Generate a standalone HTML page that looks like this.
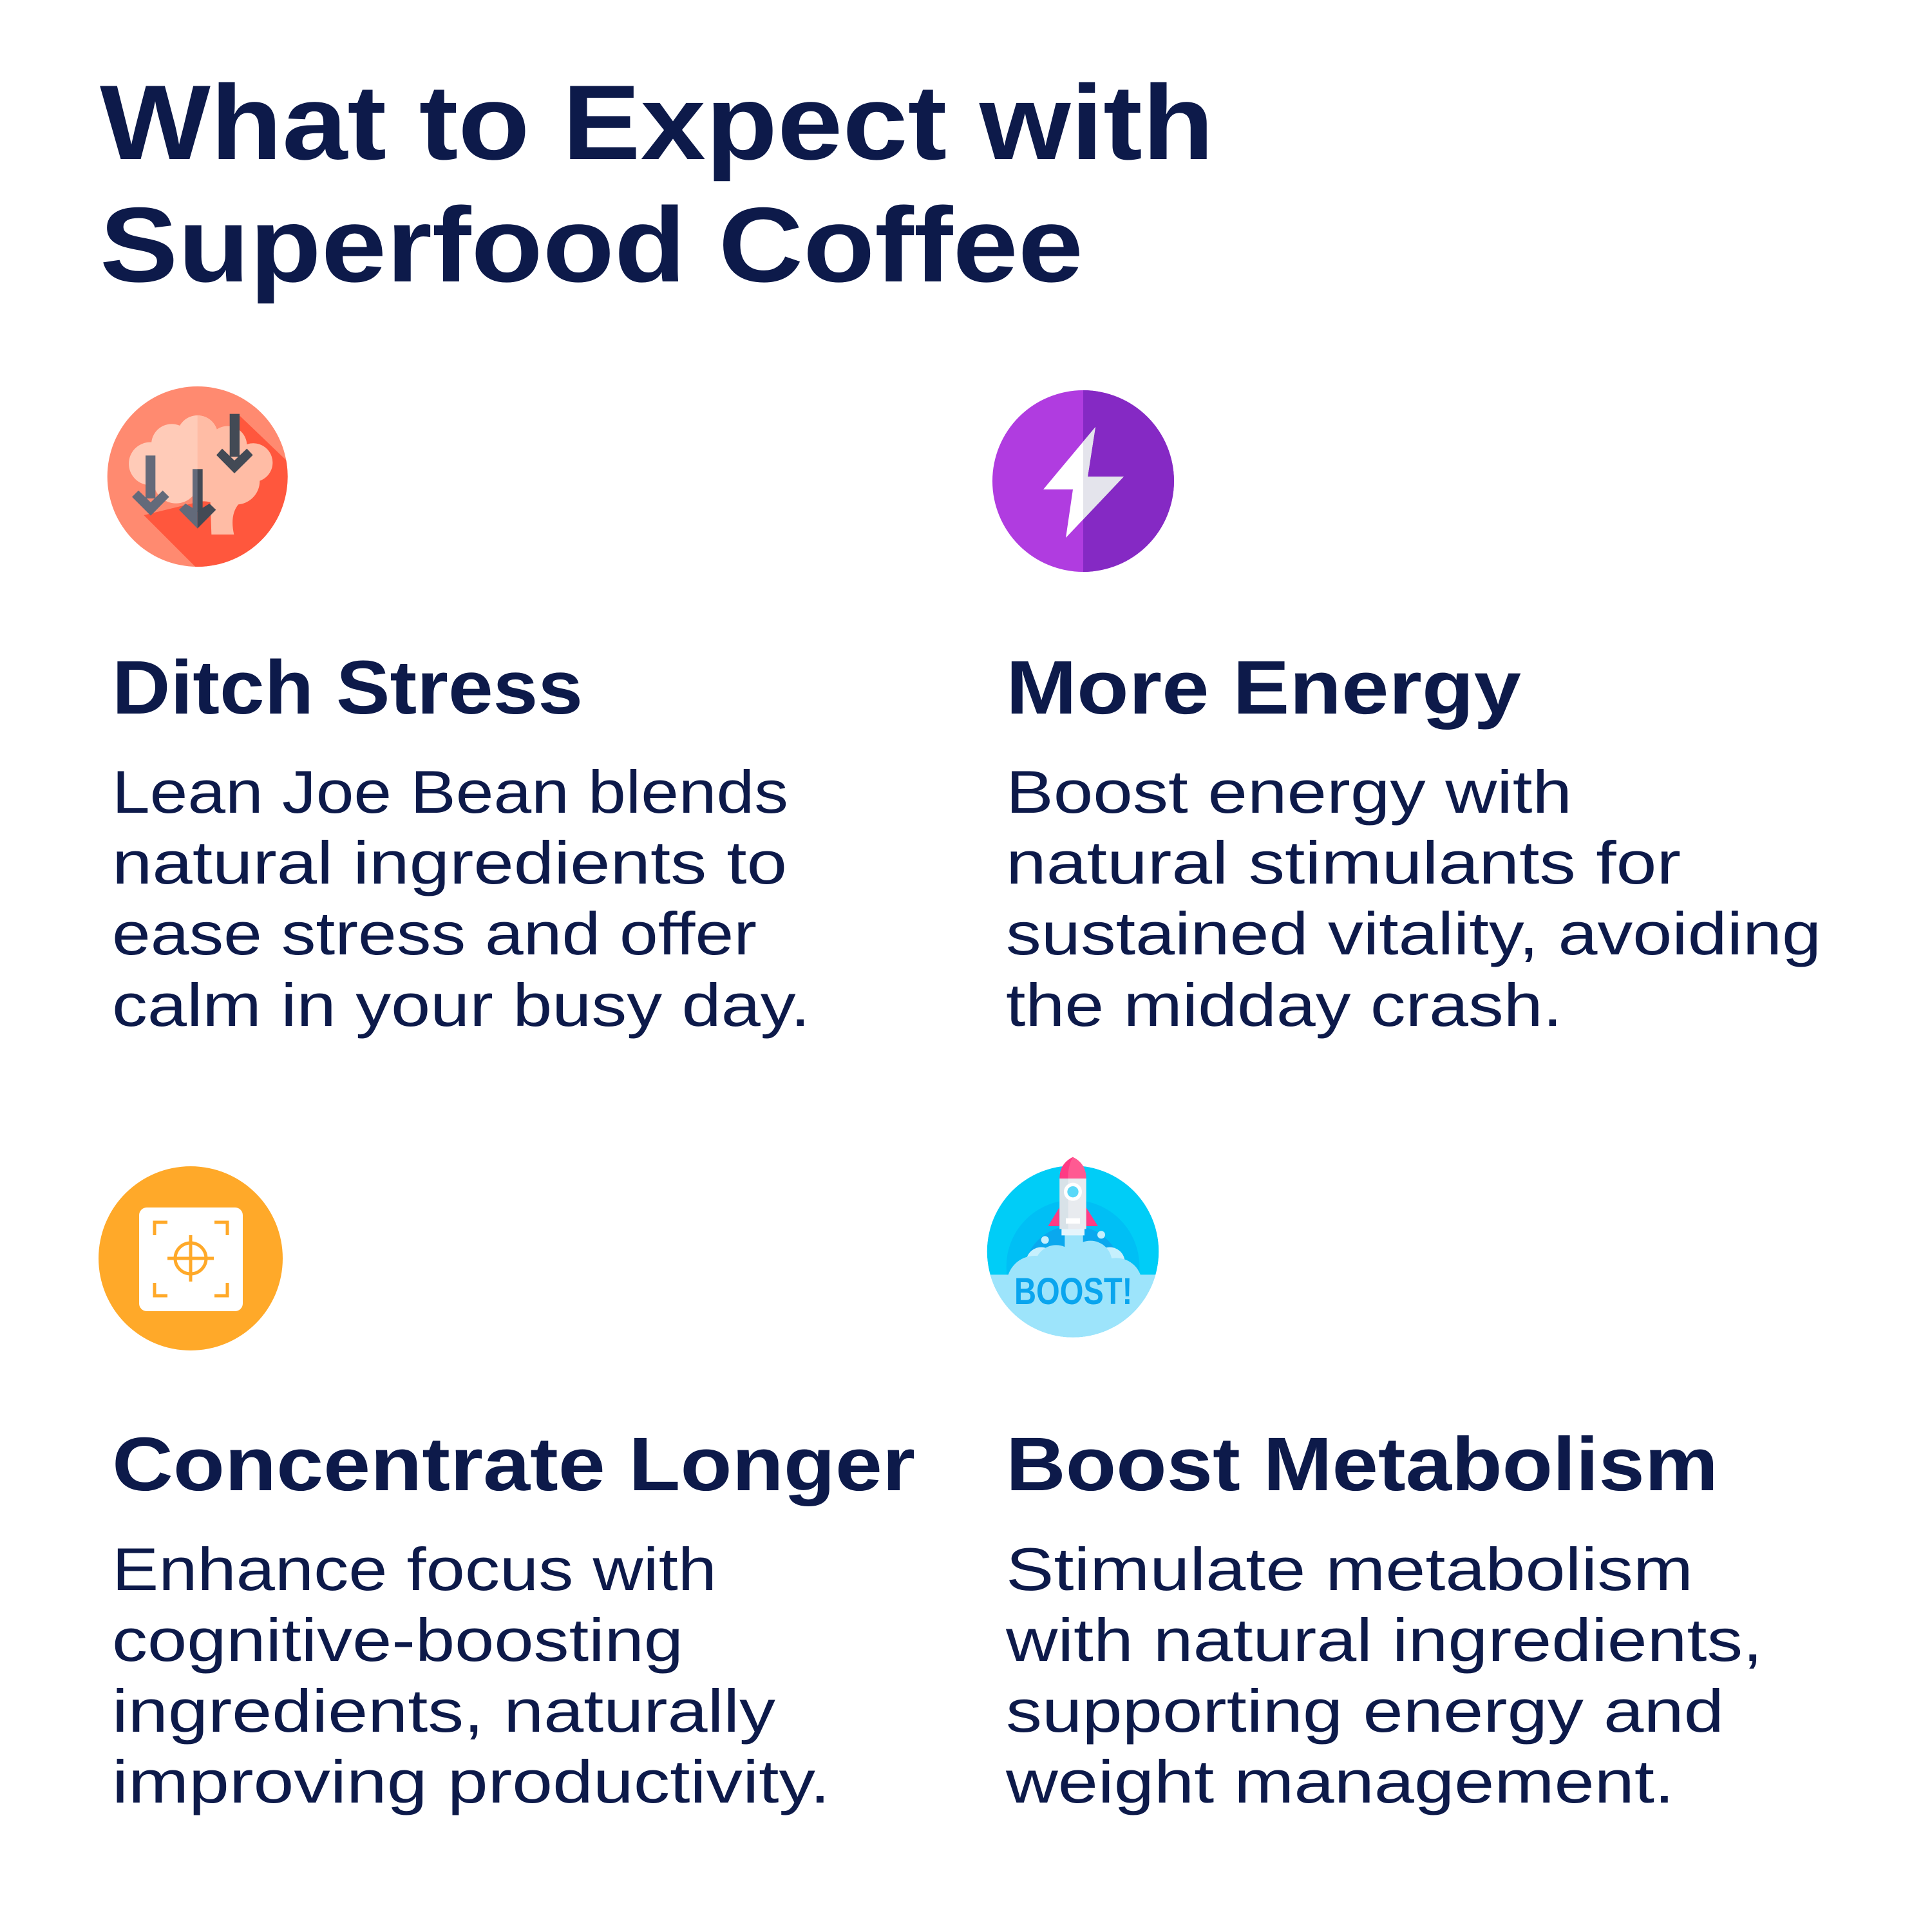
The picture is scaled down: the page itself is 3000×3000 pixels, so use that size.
<!DOCTYPE html>
<html><head><meta charset="utf-8"><style>
html,body{margin:0;padding:0;background:#fff;}
svg{display:block;}
text{font-family:"Liberation Sans",sans-serif;fill:#0d1a4a;}
.h{font-weight:bold;font-size:118px;}
.b{font-size:94px;}
</style></head><body>
<svg width="3000" height="3000" viewBox="0 0 3000 3000" xmlns="http://www.w3.org/2000/svg">
<defs>
<clipPath id="c1"><circle cx="500" cy="480" r="420"/></clipPath>
<clipPath id="c4"><circle cx="438" cy="490" r="400"/></clipPath>
<clipPath id="cp"><rect x="1682" y="500" width="400" height="500"/></clipPath>
</defs>
<rect width="3000" height="3000" fill="#fff"/>
<!-- Title -->
<text x="155" y="247" font-weight="bold" font-size="165" textLength="1730" lengthAdjust="spacingAndGlyphs">What to Expect with</text>
<text x="155" y="437" font-weight="bold" font-size="165" textLength="1527" lengthAdjust="spacingAndGlyphs">Superfood Coffee</text>

<!-- Icon 1 brain -->
<g transform="translate(140,580) scale(0.33333)">
<circle cx="500" cy="480" r="420" fill="#ff8a70"/>
<polygon clip-path="url(#c1)" points="690,190 930,420 930,920 510,920 250,660 660,560" fill="#ff573d"/>
<g fill="#ffcbb8">
<circle cx="380" cy="330" r="95"/><circle cx="500" cy="290" r="95"/><circle cx="280" cy="420" r="100"/><circle cx="400" cy="500" r="105"/><circle cx="500" cy="420" r="120"/>
</g>
<g fill="#ffbca5">
<path d="M500 195 A95 95 0 0 1 590 260 A90 90 0 0 1 730 330 A90 90 0 0 1 790 500 A110 110 0 0 1 690 610 Q650 660 670 750 L565 750 L560 600 Q530 590 500 600 Z"/>
</g>
<g fill="#636a7a">
<rect x="258" y="382" width="46" height="200"/>
<polygon points="195,575 282,662 368,575 338,545 282,600 225,545"/>
<rect x="477" y="445" width="24" height="200"/>
<polygon points="414,635 500,722 500,640 444,606"/>
</g>
<g fill="#434a55">
<rect x="500" y="445" width="24" height="200"/>
<polygon points="500,722 586,635 556,606 500,640"/>
<rect x="650" y="188" width="46" height="200"/>
<polygon points="588,380 672,465 758,380 730,350 672,405 615,350"/>
</g>
</g>

<!-- Icon 2 bolt -->
<circle cx="1682" cy="747" r="141" fill="#b03ce0"/>
<path d="M1682 606 A141 141 0 0 1 1682 888 Z" fill="#8529c4"/>
<polygon points="1701,663 1620,760 1666,760 1655,835 1745,740 1689,740" fill="#ffffff"/>
<polygon clip-path="url(#cp)" points="1701,663 1620,760 1666,760 1655,835 1745,740 1689,740" fill="#e4e4ec"/>

<!-- Icon 3 focus -->
<circle cx="296" cy="1954" r="143" fill="#ffa929"/>
<rect x="216" y="1875" width="161" height="161" rx="12" fill="#fff"/>
<g stroke="#ffa929" stroke-width="5" fill="none">
<path d="M240 1918 V1898 H260"/><path d="M333 1898 H353 V1918"/>
<path d="M240 1992 V2012 H260"/><path d="M333 2012 H353 V1992"/>
<circle cx="296" cy="1954" r="24"/>
<path d="M296 1918 V1990 M260 1954 H332"/>
</g>

<!-- Icon 4 boost -->
<g transform="translate(1520,1780) scale(0.33333)">
<g clip-path="url(#c4)">
<circle cx="438" cy="490" r="400" fill="#00cdf7"/>
<circle cx="438" cy="560" r="310" fill="#00bff5"/>
<circle cx="438" cy="600" r="230" fill="#0aa8ee"/>
<circle cx="290" cy="540" r="70" fill="#c6f0fd"/>
<circle cx="610" cy="540" r="70" fill="#c6f0fd"/>
<circle cx="260" cy="640" r="130" fill="#9de4fb"/>
<circle cx="360" cy="560" r="100" fill="#9de4fb"/>
<circle cx="520" cy="540" r="100" fill="#9de4fb"/>
<circle cx="640" cy="640" r="120" fill="#9de4fb"/>
<rect x="400" y="400" width="85" height="200" fill="#9de4fb"/>
<rect x="0" y="598" width="900" height="400" fill="#9de4fb"/>
</g>
<circle cx="308" cy="436" r="18" fill="#c6f0fd"/>
<circle cx="570" cy="412" r="18" fill="#c6f0fd"/>
<polygon points="322,372 375,285 375,372" fill="#ff3b84"/>
<polygon points="555,372 500,285 500,372" fill="#ff3b84"/>
<rect x="385" y="380" width="107" height="35" fill="#e6f5fc"/>
<path d="M376 150 Q376 80 438 50 Q500 80 500 150 Z" fill="#ff5a92"/>
<path d="M376 150 Q376 80 438 50 Q415 90 415 150 Z" fill="#ff3b84"/>
<rect x="376" y="150" width="124" height="235" fill="#e8ebef"/>
<rect x="376" y="150" width="40" height="235" fill="#d8e2e8"/>
<circle cx="438" cy="212" r="42" fill="#fff"/>
<circle cx="438" cy="212" r="26" fill="#5ad8f8"/>
<rect x="405" y="335" width="66" height="25" fill="#fff"/>
<text x="440" y="735" text-anchor="middle" font-weight="bold" font-size="175" style="fill:#0aa5ee" textLength="550" lengthAdjust="spacingAndGlyphs">BOOST!</text>
</g>

<!-- Headings -->
<text class="h" x="174" y="1108" textLength="731" lengthAdjust="spacingAndGlyphs">Ditch Stress</text>
<text class="h" x="1562" y="1108" textLength="800" lengthAdjust="spacingAndGlyphs">More Energy</text>
<text class="h" x="174" y="2314" textLength="1247" lengthAdjust="spacingAndGlyphs">Concentrate Longer</text>
<text class="h" x="1562" y="2314" textLength="1106" lengthAdjust="spacingAndGlyphs">Boost Metabolism</text>

<!-- Body -->
<g class="b">
<text class="b" x="174" y="1262" textLength="1050" lengthAdjust="spacingAndGlyphs">Lean Joe Bean blends</text>
<text class="b" x="174" y="1372" textLength="1048" lengthAdjust="spacingAndGlyphs">natural ingredients to</text>
<text class="b" x="174" y="1482" textLength="1001" lengthAdjust="spacingAndGlyphs">ease stress and offer</text>
<text class="b" x="174" y="1593" textLength="1084" lengthAdjust="spacingAndGlyphs">calm in your busy day.</text>

<text class="b" x="1562" y="1262" textLength="879" lengthAdjust="spacingAndGlyphs">Boost energy with</text>
<text class="b" x="1562" y="1372" textLength="1048" lengthAdjust="spacingAndGlyphs">natural stimulants for</text>
<text class="b" x="1562" y="1482" textLength="1266" lengthAdjust="spacingAndGlyphs">sustained vitality, avoiding</text>
<text class="b" x="1562" y="1593" textLength="864" lengthAdjust="spacingAndGlyphs">the midday crash.</text>

<text class="b" x="174" y="2469" textLength="939" lengthAdjust="spacingAndGlyphs">Enhance focus with</text>
<text class="b" x="174" y="2579" textLength="887" lengthAdjust="spacingAndGlyphs">cognitive-boosting</text>
<text class="b" x="174" y="2689" textLength="1030" lengthAdjust="spacingAndGlyphs">ingredients, naturally</text>
<text class="b" x="174" y="2799" textLength="1115" lengthAdjust="spacingAndGlyphs">improving productivity.</text>

<text class="b" x="1562" y="2469" textLength="1067" lengthAdjust="spacingAndGlyphs">Stimulate metabolism</text>
<text class="b" x="1562" y="2579" textLength="1175" lengthAdjust="spacingAndGlyphs">with natural ingredients,</text>
<text class="b" x="1562" y="2689" textLength="1115" lengthAdjust="spacingAndGlyphs">supporting energy and</text>
<text class="b" x="1562" y="2799" textLength="1038" lengthAdjust="spacingAndGlyphs">weight management.</text>
</g>
</svg>
</body></html>
